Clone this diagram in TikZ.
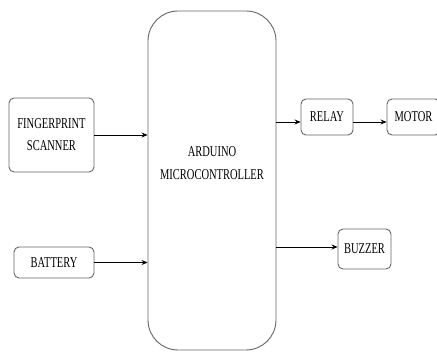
\documentclass[tikz,border=0pt]{standalone}
\usepackage{fontspec}
\setmainfont{Liberation Serif}
\usetikzlibrary{arrows.meta}
\tikzset{
  blk/.style={draw=black!60, line width=0.9pt, rounded corners=5pt, inner sep=0pt, align=center, font=\fontsize{15}{22}\selectfont},
  arr/.style={-{Stealth[length=6pt,width=5pt]}, line width=0.8pt, black}
}
\newcommand{\cond}[1]{\scalebox{0.7}[1]{#1}}
\begin{document}
\begin{tikzpicture}[x=1pt,y=-1pt]
\useasboundingbox (0,0) rectangle (437,352);
\node[blk, minimum width=85pt, minimum height=74pt] (fp) at (51.5,135) {\cond{FINGERPRINT}\\\cond{SCANNER}};
\node[blk, minimum width=80pt, minimum height=31pt] (bat) at (54,262.5) {\cond{BATTERY}};
\node[blk, rounded corners=30pt, minimum width=128pt, minimum height=339pt] (mcu) at (212,180.5) {};
\node[align=center, font=\fontsize{15}{23}\selectfont, inner sep=0pt] (mcutext) at (212,163) {\cond{ARDUINO}\\\cond{MICROCONTROLLER}};
\node[blk, minimum width=52pt, minimum height=36pt] (relay) at (327,117) {\cond{RELAY}};
\node[blk, minimum width=53pt, minimum height=36pt] (motor) at (413.5,117) {\cond{MOTOR}};
\node[blk, minimum width=53pt, minimum height=40pt] (buzz) at (364.5,249) {\cond{BUZZER}};
\draw[arr] (fp.east) -- (fp.east -| mcu.west);
\draw[arr] (bat.east) -- (bat.east -| mcu.west);
\coordinate (r1) at (276,122);
\draw[arr] (r1 -| mcu.east) -- (r1 -| relay.west);
\draw[arr] (r1 -| relay.east) -- (r1 -| motor.west);
\coordinate (b1) at (276,247);
\draw[arr] (b1 -| mcu.east) -- (b1 -| buzz.west);
\end{tikzpicture}
\end{document}
